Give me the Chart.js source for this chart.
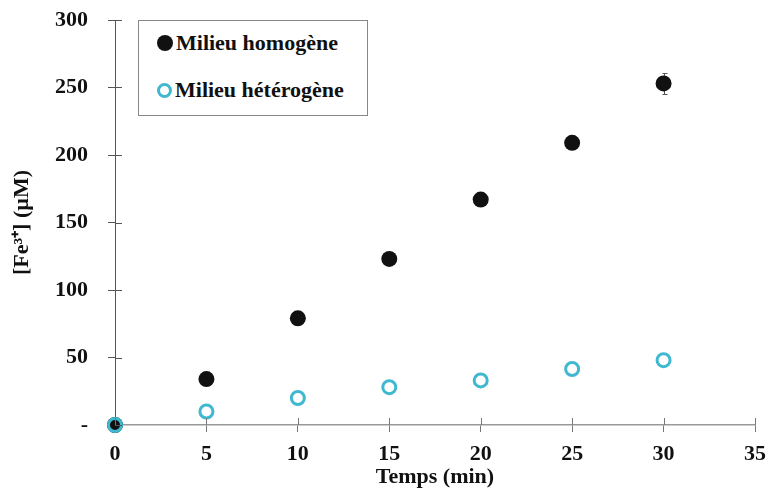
<!DOCTYPE html>
<html>
<head>
<meta charset="utf-8">
<script src="https://cdn.jsdelivr.net/npm/chart.js@4.4.0/dist/chart.umd.min.js"></script>
<style>
  html, body { margin: 0; padding: 0; background: #fff; }
  #wrap { position: relative; width: 768px; height: 491px; }
  #legend {
    position: absolute; left: 138px; top: 20px; width: 230px; height: 96px;
    border: 1px solid #888; box-sizing: border-box; background: #fff;
    font-family: "Liberation Serif", "Times New Roman", serif; font-weight: bold;
    font-size: 22px; color: #111;
  }
  .item { position: absolute; left: 18px; white-space: nowrap; }
  .dot { display: inline-block; width: 16px; height: 16px; border-radius: 50%; box-sizing: border-box; vertical-align: -1px; margin-right: 3px; }
</style>
</head>
<body>
<div id="wrap">
  <canvas id="chart" width="768" height="491"></canvas>
  <div id="legend">
    <div class="item" style="top:9px"><span class="dot" style="background:#111"></span>Milieu homogène</div>
    <div class="item" style="top:56px"><span class="dot" style="border:3px solid #3fb8d0;width:15px;height:15px"></span>Milieu hétérogène</div>
  </div>
</div>
<script>
// données
const temps = [0, 5, 10, 15, 20, 25, 30];
const homogene = [0, 34, 79, 123, 167, 209, 253];
const homogeneErr = [0, 0, 0, 0, 0, 0, 7.5];
const heterogene = [0, 10, 20, 28, 33, 41.5, 48];
const heterogeneErr = [0, 0, 0, 0, 0, 0, 0];
const xTicks = [0, 5, 10, 15, 20, 25, 30, 35];
const yTicks = [0, 50, 100, 150, 200, 250, 300];

const font = { family: '"Liberation Serif", "Times New Roman", serif', weight: 'bold', size: 22 };

// barres d'erreur, sous les points
const errorBars = {
  id: 'errorBars',
  beforeDatasetsDraw(chart) {
    const ctx = chart.ctx;
    const x = chart.scales.x, y = chart.scales.y;
    ctx.save();
    ctx.lineWidth = 1;
    const series = [[homogene, homogeneErr, '#555'], [heterogene, heterogeneErr, '#3fb8d0']];
    series.forEach(([vals, errs, col]) => {
      ctx.strokeStyle = col;
      vals.forEach((v, i) => {
        if (!errs[i]) return;
        const px = Math.round(x.getPixelForValue(temps[i])) + 0.5;
        const top = Math.round(y.getPixelForValue(v + errs[i])) + 0.5;
        const bot = Math.round(y.getPixelForValue(v - errs[i])) + 0.5;
        ctx.beginPath();
        ctx.moveTo(px, top); ctx.lineTo(px, bot);
        ctx.moveTo(px - 2, top); ctx.lineTo(px + 3, top);
        ctx.moveTo(px - 2, bot); ctx.lineTo(px + 3, bot);
        ctx.stroke();
      });
    });
    ctx.restore();
  }
};

// ticks qui traversent l'axe
const innerTicks = {
  id: 'innerTicks',
  afterDatasetsDraw(chart) {
    const ctx = chart.ctx;
    const x = chart.scales.x, y = chart.scales.y;
    ctx.save();
    ctx.lineWidth = 1;
    ctx.strokeStyle = '#777';
    x.ticks.forEach(t => {
      const px = Math.round(x.getPixelForValue(t.value)) + 0.5;
      ctx.beginPath(); ctx.moveTo(px, y.bottom); ctx.lineTo(px, y.bottom - 7); ctx.stroke();
    });
    ctx.strokeStyle = '#555';
    y.ticks.forEach(t => {
      const py = Math.round(y.getPixelForValue(t.value)) + 0.5;
      ctx.beginPath(); ctx.moveTo(x.left, py); ctx.lineTo(x.left + 7, py); ctx.stroke();
    });
    ctx.restore();
  }
};

new Chart(document.getElementById('chart'), {
  type: 'scatter',
  data: {
    datasets: [
      {
        label: 'Milieu homogène',
        data: temps.map((t, i) => ({ x: t, y: homogene[i] })),
        pointRadius: 8,
        pointBorderWidth: 0,
        pointBackgroundColor: '#111',
        order: 1,
        clip: false
      },
      {
        label: 'Milieu hétérogène',
        data: temps.map((t, i) => ({ x: t, y: heterogene[i] })),
        pointRadius: 6.5,
        pointBorderWidth: 3,
        pointBorderColor: '#3fb8d0',
        pointBackgroundColor: 'rgba(0,0,0,0)',
        order: 0,
        clip: false
      }
    ]
  },
  options: {
    responsive: false,
    animation: false,
    layout: { autoPadding: false, padding: { top: 20, right: 13, left: 0, bottom: 0 } },
    plugins: { legend: { display: false }, tooltip: { enabled: false } },
    scales: {
      x: {
        type: 'linear', min: 0, max: 35,
        afterBuildTicks: s => { s.ticks = xTicks.map(v => ({ value: v })); },
        afterFit: s => { s.height = 66; s.paddingLeft = 0; s.paddingRight = 0; },
        grid: { drawOnChartArea: false, tickLength: 7, color: '#777' },
        border: { color: '#999', width: 1.5 },
        ticks: { font, color: '#111', padding: 9, maxRotation: 0 },
        title: { display: true, text: 'Temps (min)', font, color: '#111', padding: { top: 0, bottom: 0 } }
      },
      y: {
        type: 'linear', min: 0, max: 300,
        afterBuildTicks: s => { s.ticks = yTicks.map(v => ({ value: v })); },
        afterFit: s => { s.width = 115; s.paddingTop = 0; s.paddingBottom = 0; },
        grid: { drawOnChartArea: false, tickLength: 7, color: '#555' },
        border: { color: '#555', width: 1 },
        ticks: { font, color: '#111', padding: 20, callback: v => v === 0 ? '-' : v },
        title: { display: true, text: '[Fe³⁺] (µM)', font, color: '#111', padding: { top: 9, bottom: 0 } }
      }
    }
  },
  plugins: [errorBars, innerTicks]
});
</script>
</body>
</html>
